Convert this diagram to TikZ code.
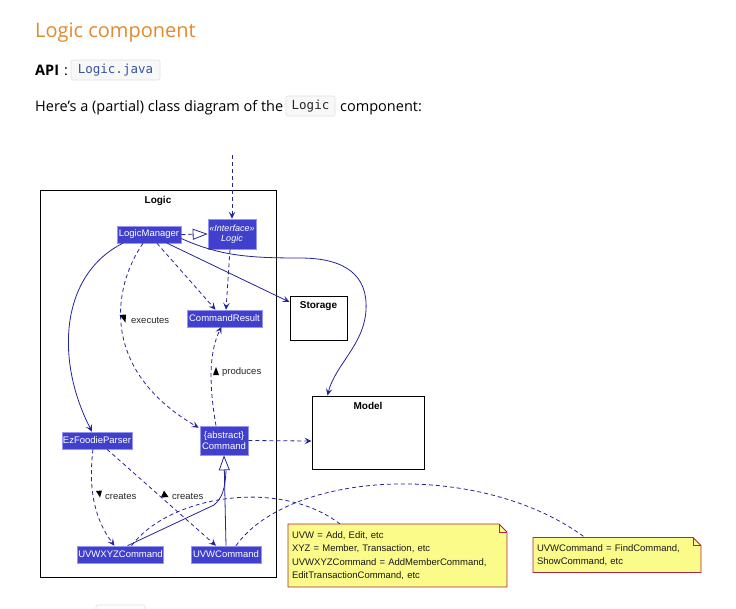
\documentclass[tikz,border=0pt]{standalone}
\usepackage{fontspec}
\setmainfont{Open Sans}
\newfontfamily\diagfont{Liberation Sans}
\newfontfamily\codefont{DejaVu Sans Mono}
\usetikzlibrary{arrows.meta,calc}
\definecolor{headorange}{RGB}{226,138,46}
\definecolor{codeblue}{RGB}{52,82,160}
\definecolor{codebg}{RGB}{248,248,248}
\definecolor{codeline}{RGB}{225,225,225}
\definecolor{clsfill}{RGB}{64,64,204}
\definecolor{clsborder}{RGB}{150,150,240}
\definecolor{lncol}{RGB}{36,36,156}
\definecolor{notefill}{RGB}{251,251,138}
\definecolor{noteline}{RGB}{168,40,70}
\tikzset{
  cls/.style={draw=clsborder, fill=clsfill, text=white, line width=0.6pt,
    font=\diagfont\fontsize{9.5}{11}\selectfont, inner sep=1pt, align=center},
  pkgbox/.style={draw=black, line width=1pt, fill=white},
  pkgtitle/.style={font=\diagfont\bfseries\fontsize{10}{12}\selectfont, inner sep=1pt},
  conn/.style={draw=lncol, line width=0.8pt},
  dsh/.style={conn, dash pattern=on 4pt off 3pt},
  arr/.style={-{Stealth[length=7pt,width=6.5pt,inset=3pt]}},
  inh/.style={-{Triangle[open,length=15pt,width=11pt,fill=white]}},
  elabel/.style={font=\diagfont\fontsize{9.5}{11}\selectfont, inner sep=0pt, anchor=west, text=black!85},
  notebox/.style={font=\diagfont\fontsize{9.5}{13.5}\selectfont, inner sep=4pt, align=left, text=black!90},
  notestyle/.style={fill=notefill, draw=noteline, line width=0.8pt},
  codebox/.style={draw=codeline, fill=codebg, rounded corners=2pt, inner sep=0pt,
    font=\codefont\fontsize{12.5}{14}\selectfont, line width=0.6pt},
  bodytext/.style={font=\fontsize{14.5}{17}\selectfont, inner sep=0pt, anchor=base west},
  marker/.style={fill=black}
}
\begin{document}
\begin{tikzpicture}[x=1pt,y=-1pt]
\useasboundingbox[fill=white] (0,0) rectangle (736,608);

% ---------- page text ----------
\node[anchor=base west, inner sep=0pt, text=headorange, font=\fontsize{20}{24}\selectfont] (title) at (35,37) {Logic component};
\node[bodytext, font=\bfseries\fontsize{14.5}{17}\selectfont] (api) at (35,75) {API};
\node[bodytext] (colon) at (64,75) {:};
\node[codebox, text=codeblue, minimum width=89, minimum height=20] (code1) at (115.5,70) {Logic.java};
\node[bodytext] (body) at (35,111) {Here’s a (partial) class diagram of the};
\node[codebox, text=black!85, minimum width=49, minimum height=20] (code2) at (310.5,106) {Logic};
\node[bodytext] (body2) at (340,111) {component:};

% ---------- package ----------
\node[pkgbox, minimum width=236, minimum height=387] (logicpkg) at (158,383.5) {};
\node[pkgtitle] (logictitle) at (158,201) {Logic};

% ---------- outside boxes ----------
\node[pkgbox, minimum width=57, minimum height=44] (storage) at (318.5,318) {};
\node[pkgtitle] (storagetitle) at (318.5,306) {Storage};
\node[pkgbox, minimum width=112, minimum height=73] (model) at (368,432.5) {};
\node[pkgtitle] (modeltitle) at (368,406) {Model};

% ---------- classes ----------
\node[cls, minimum width=64, minimum height=17] (lm) at (149,234.5) {LogicManager};
\node[cls, minimum width=48, minimum height=30, font=\diagfont\itshape\fontsize{9}{10.5}\selectfont] (ilogic) at (232,234) {«Interface»\\Logic};
\node[cls, minimum width=75, minimum height=17] (cr) at (224.5,318.5) {CommandResult};
\node[cls, minimum width=70, minimum height=17] (parser) at (97,440.5) {EzFoodieParser};
\node[cls, minimum width=48, minimum height=29] (cmd) at (224,440.5) {\{abstract\}\\Command};
\node[cls, minimum width=85, minimum height=17] (uvwxyz) at (120.5,554.5) {UVWXYZCommand};
\node[cls, minimum width=70, minimum height=17] (uvw) at (226,554.5) {UVWCommand};

% ---------- notes (frames first, then text nodes) ----------
\draw[notestyle] (288,524) -- (499,524) -- (507,532) -- (507,587) -- (288,587) -- cycle;
\draw[noteline, line width=0.8pt] (499,524) -- (499,532) -- (507,532);
\draw[notestyle] (533,537.5) -- (693,537.5) -- (701,545.5) -- (701,572.5) -- (533,572.5) -- cycle;
\draw[noteline, line width=0.8pt] (693,537.5) -- (693,545.5) -- (701,545.5);
\node[notebox, minimum width=219, minimum height=63, text width=211] (note1) at (397.5,555.5)
  {UVW = Add, Edit, etc\\XYZ = Member, Transaction, etc\\UVWXYZCommand = AddMemberCommand,\\EditTransactionCommand, etc};
\node[notebox, minimum width=168, minimum height=35, text width=160] (note2) at (617,555)
  {UVWCommand = FindCommand,\\ShowCommand, etc};

% ---------- connectors ----------
\coordinate (topin) at (232,155);
\draw[dsh, arr] (topin) -- (ilogic.north);
\draw[dsh, inh] (lm.east) -- (ilogic.west);
\draw[dsh, arr] ($(ilogic.south)+(-2,0)$) -- ($(cr.north)+(1.5,0)$);
\draw[dsh, arr] ($(lm.south)+(8,0)$) -- ($(cr.north)+(-9,0)$);
\draw[conn, arr] ($(lm.south east)+(-14,0)$) -- ($(storage.west)+(0,-16)$);
\draw[conn, arr] ($(lm.east)+(0,4)$) .. controls (220,256) and (250,258) .. (300,258)
   .. controls (345,258) and (368,275) .. (366,310)
   .. controls (364,345) and (335,365) .. ($(model.north west)+(16,0)$);
\draw[dsh, arr] ($(lm.south)+(-6,0)$) .. controls (112,288) and (100,370) .. ($(cmd.north west)+(-1,2)$);
\draw[conn, arr] ($(lm.south west)+(6,0)$) .. controls (60,275) and (55,360) .. ($(parser.north)+(-5,0)$);
\draw[dsh, arr] ($(cmd.north)+(-8,0)$) .. controls (208,380) and (210,350) .. ($(cr.north)+(-3,17)$);
\draw[dsh, arr] (cmd.east) -- ($(model.west)+(0,8.5)$);
\draw[dsh, arr] ($(parser.south)+(-4,0)$) .. controls (88,490) and (95,520) .. ($(uvwxyz.north)+(-6,0)$);
\draw[dsh, arr] ($(parser.south)+(10,0)$) -- ($(uvw.north)+(-10,0)$);
\coordinate (inhbase) at (226,471);
\draw[conn] ($(uvwxyz.north)+(7,0)$) -- (214,505) .. controls (222,498) and (225,490) .. (inhbase);
\draw[conn, inh] (uvw.north) -- (cmd.south);
\draw[dsh] ($(uvwxyz.north)+(11,0)$) .. controls (170,495) and (280,478) .. ($(note1.north west)+(52,0)$);
\draw[dsh] ($(uvw.north)+(10,0)$) .. controls (290,470) and (480,460) .. ($(note2.north west)+(52,0)$);

% ---------- edge labels ----------
\fill[marker] (119.5,315) -- (126,314.5) -- (125.5,322.5) -- cycle;
\node[elabel] (lexec) at (131,320) {executes};
\fill[marker] (213,375) -- (219,375) -- (216,367) -- cycle;
\node[elabel] (lprod) at (222,372) {produces};
\fill[marker] (96,491) -- (102,490.5) -- (100,497.5) -- cycle;
\node[elabel] (lcre1) at (105,496) {creates};
\fill[marker] (164,490.5) -- (168.5,497) -- (161,497.5) -- cycle;
\node[elabel] (lcre2) at (172,496) {creates};

% faint code box at the bottom edge
\begin{scope}
\clip (0,0) rectangle (736,608);
\draw[codeline, rounded corners=2pt, line width=0.6pt] (96,605) rectangle (145,625);
\end{scope}
\end{tikzpicture}
\end{document}
